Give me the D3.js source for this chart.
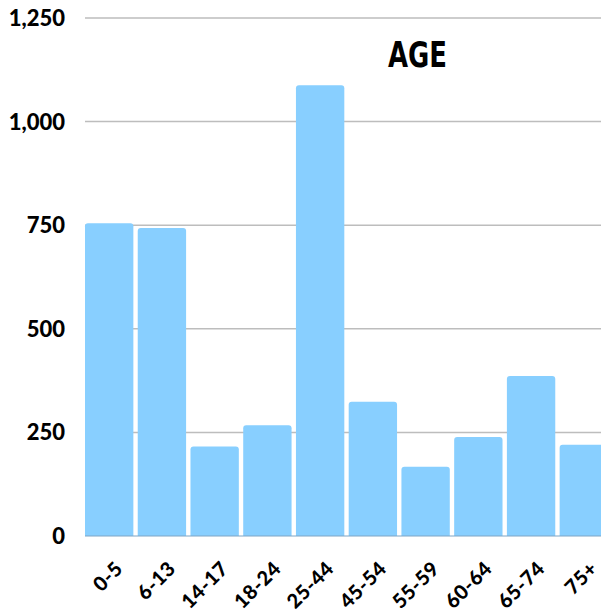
<!DOCTYPE html>
<html><head><meta charset="utf-8">
<script src="https://cdn.jsdelivr.net/npm/d3@7"></script>
<style>body{margin:0;background:#fff}svg{display:block}</style>
</head><body>
<script>
const categories = ["0-5","6-13","14-17","18-24","25-44","45-54","55-59","60-64","65-74","75+"];
const values = [755, 743, 216, 267, 1088, 324, 167, 239, 386, 220];
const yTicks = [0, 250, 500, 750, 1000, 1250];
const title = "AGE";

const W = 601, H = 615;
const svg = d3.select("body").append("svg").attr("width", W).attr("height", H);
const x = d3.scaleBand().domain(categories).range([85, 608]).paddingInner(0.083).paddingOuter(0);
const y = d3.scaleLinear().domain([0, 1250]).range([536, 18]);
const font = "Lato, 'Open Sans', sans-serif";

// gridlines
svg.append("g").selectAll("line").data(yTicks.filter(d => d > 0)).join("line")
  .attr("x1", 85).attr("x2", W).attr("y1", d => y(d)).attr("y2", d => y(d))
  .attr("stroke", "#bdbdbd").attr("stroke-width", 1.5);

// y labels
svg.append("g").selectAll("text").data(yTicks).join("text")
  .attr("x", 65).attr("y", d => y(d)).attr("dy", "0.36em")
  .attr("text-anchor", "end").attr("font-family", font).attr("font-weight", 900)
  .attr("font-size", 22).attr("fill", "#000")
  .text(d => d3.format(",")(d));

// bars with rounded top corners
const r = 3;
svg.append("g").selectAll("path").data(categories).join("path")
  .attr("d", (c, i) => {
    const x0 = x(c), w = x.bandwidth(), y0 = y(values[i]), yb = y(0);
    return `M${x0},${yb}V${y0 + r}Q${x0},${y0} ${x0 + r},${y0}H${x0 + w - r}Q${x0 + w},${y0} ${x0 + w},${y0 + r}V${yb}Z`;
  })
  .attr("fill", "#88cfff");

// baseline
svg.append("line").attr("x1", 85).attr("x2", W).attr("y1", y(0)).attr("y2", y(0))
  .attr("stroke", "#7fa6c6").attr("stroke-width", 1.2);

// x labels
svg.append("g").selectAll("text").data(categories).join("text")
  .attr("transform", c => `translate(${x(c) + x.bandwidth() / 2 + 15},${570}) rotate(-45)`)
  .attr("text-anchor", "end").attr("font-family", font).attr("font-weight", 900)
  .attr("font-size", 20).attr("letter-spacing", 0.5).attr("fill", "#000")
  .text(c => c);

// title
svg.append("text").attr("x", 388).attr("y", 67)
  .attr("font-family", "'Liberation Sans Narrow', 'DejaVu Sans Condensed', sans-serif")
  .attr("font-weight", 700).attr("font-size", 35)
  .attr("textLength", 59).attr("lengthAdjust", "spacingAndGlyphs")
  .attr("fill", "#000").text(title);
</script>
</body></html>
